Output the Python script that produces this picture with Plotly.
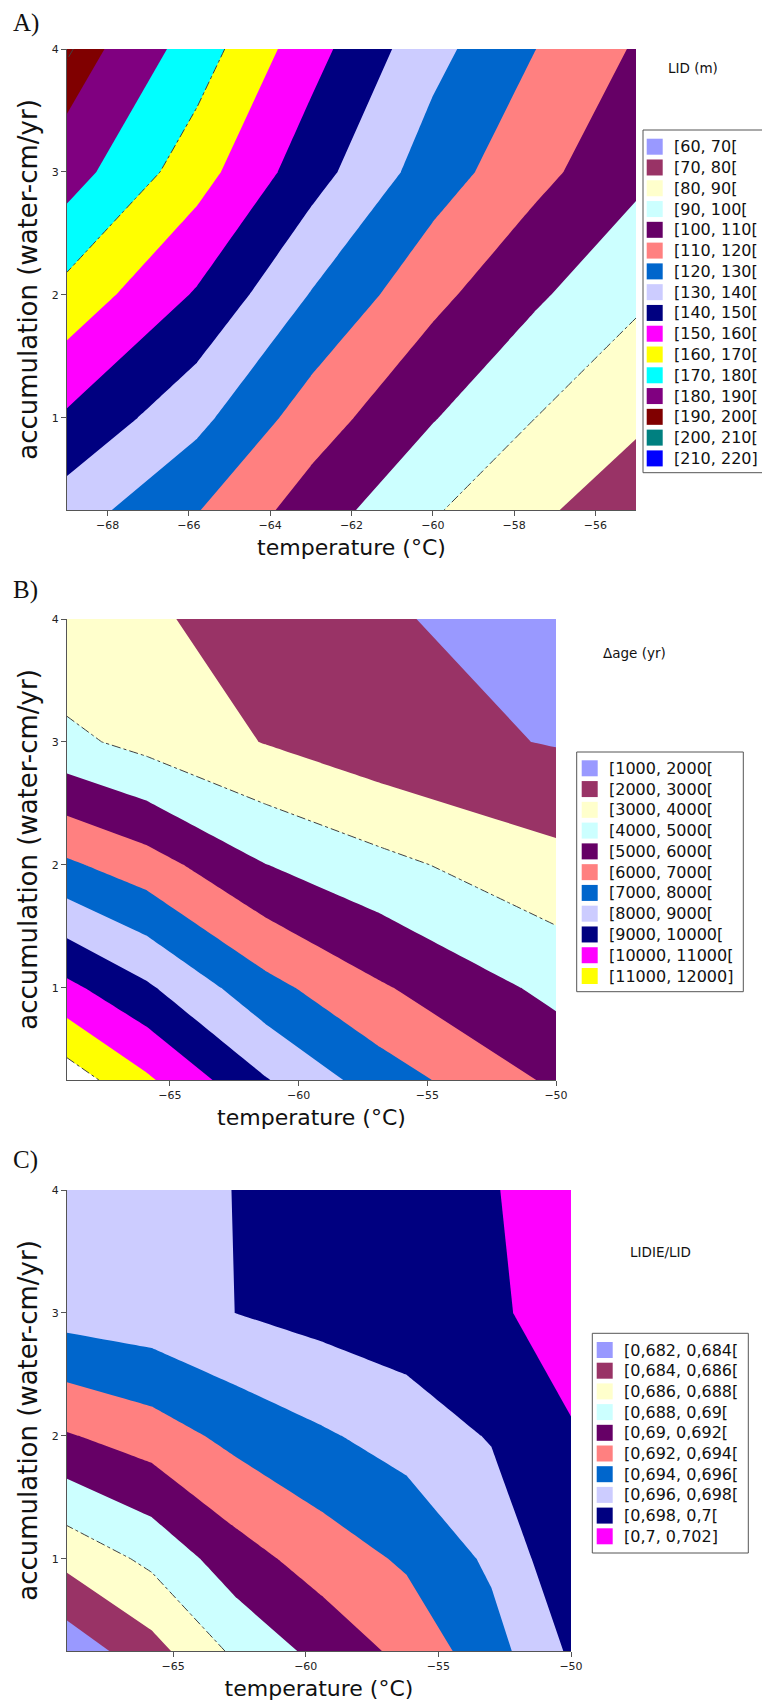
import plotly.graph_objects as go

W, H = 762, 1704

# ---------------- data ----------------
# Panel A : LID (m)
temp_A = [-69.0, -65.8, -63.0, -60.0, -57.5, -55.0]
acc_A = [0.25, 1.0, 2.0, 3.0, 4.0]
lid_A = [
    [135.0, 120.5, 105.3, 91.0, 82.0, 74.0],
    [148.6, 132.8, 115.1, 100.6, 90.1, 81.8],
    [166.7, 148.9, 129.5, 112.7, 101.6, 91.9],
    [184.6, 164.2, 144.2, 125.0, 113.0, 102.5],
    [196.0, 175.2, 153.8, 133.1, 120.2, 109.0],
]
labels_A = ["[60, 70[", "[70, 80[", "[80, 90[", "[90, 100[", "[100, 110[", "[110, 120[",
            "[120, 130[", "[130, 140[", "[140, 150[", "[150, 160[", "[160, 170[",
            "[170, 180[", "[180, 190[", "[190, 200[", "[200, 210[", "[210, 220]"]
dashed_A = [90, 170, 195]

# Panel B : delta age (yr)
temp_B = [-69.0, -65.9, -61.3, -56.85, -50.0]
acc_B = [0.25, 1.0, 2.0, 3.0, 4.0]
dage_B = [
    [12560, 11160, 9070, 7500, 5810],
    [10240, 9150, 7320, 6110, 4725],
    [7160, 6440, 5020, 4280, 3296],
    [4250, 3676, 2960, 2365, 1940],
    [3050, 3126, 2621, 2145, 1450],
]
labels_B = ["[1000, 2000[", "[2000, 3000[", "[3000, 4000[", "[4000, 5000[", "[5000, 6000[",
            "[6000, 7000[", "[7000, 8000[", "[8000, 9000[", "[9000, 10000[",
            "[10000, 11000[", "[11000, 12000]"]
dashed_B = [4000, 12000]

# Panel C : LIDIE/LID
temp_C = [-69.0, -65.8, -62.6, -59.4, -56.2, -53.0, -50.0]
acc_C = [0.25, 1.0, 2.0, 3.0, 4.0]
ratio_C = [
    [0.68272, 0.68529, 0.68844, 0.69063, 0.69256, 0.69521, 0.69830],
    [0.68658, 0.68847, 0.69116, 0.69291, 0.69430, 0.69636, 0.69960],
    [0.69184, 0.69300, 0.69461, 0.69575, 0.69681, 0.69816, 0.69985],
    [0.69680, 0.69720, 0.69802, 0.69868, 0.69920, 0.69970, 0.70080],
    [0.69750, 0.69770, 0.69802, 0.69900, 0.69950, 0.69985, 0.70120],
]
labels_C = ["[0,682, 0,684[", "[0,684, 0,686[", "[0,686, 0,688[", "[0,688, 0,69[",
            "[0,69, 0,692[", "[0,692, 0,694[", "[0,694, 0,696[", "[0,696, 0,698[",
            "[0,698, 0,7[", "[0,7, 0,702]"]
dashed_C = [0.688]

palette = ["#9999FF", "#993366", "#FFFFCC", "#CCFFFF", "#660066", "#FF8080", "#0066CC",
           "#CCCCFF", "#000080", "#FF00FF", "#FFFF00", "#00FFFF", "#800080", "#800000",
           "#008080", "#0000FF"]

FONT = "DejaVu Sans"
fig = go.Figure()


def px_x(p):
    return p / W


def px_y(p):
    return 1 - p / H


def add_panel(n, temp, acc, z, start, end, size, colors, dashed):
    xa = "x" if n == 1 else "x%d" % n
    ya = "y" if n == 1 else "y%d" % n
    nc = int(round((end - start) / size)) + 1
    cscale = [[k / nc, c] for k, c in enumerate(colors)]
    fig.add_trace(go.Contour(
        x=temp, y=acc, z=z, xaxis=xa, yaxis=ya,
        contours=dict(start=start, end=end, size=size, coloring="fill", showlines=False),
        colorscale=cscale, showscale=False, line=dict(width=0, smoothing=0),
        hoverinfo="skip", showlegend=False))
    for lv in dashed:
        fig.add_trace(go.Contour(
            x=temp, y=acc, z=z, xaxis=xa, yaxis=ya,
            contours=dict(start=lv, end=lv, size=size, coloring="none", showlines=True),
            line=dict(color="#404040", width=1, dash="dashdot", smoothing=0),
            showscale=False, hoverinfo="skip", showlegend=False))


add_panel(1, temp_A, acc_A, lid_A, 70, 210, 10, palette, dashed_A)
add_panel(2, temp_B, acc_B, dage_B, 2000, 12000, 1000, palette[:11] + ["#FFFFFF"], dashed_B)
add_panel(3, temp_C, acc_C, ratio_C, 0.684, 0.700, 0.002, palette[:10], dashed_C)

axis_common = dict(showgrid=False, zeroline=False, showline=True, linecolor="#555555",
                   linewidth=1, ticks="outside", ticklen=5, tickcolor="#555555",
                   automargin=False,
                   tickfont=dict(family=FONT, size=11, color="#222222"))

panels = [
    # (xdomain px, ydomain px, xrange, xticks)
    ((67, 636), (49, 510), [-69.0, -55.0], [-68, -66, -64, -62, -60, -58, -56]),
    ((67, 556), (619, 1080), [-69.0, -50.0], [-65, -60, -55, -50]),
    ((67, 571), (1190, 1651), [-69.0, -50.0], [-65, -60, -55, -50]),
]
layout = {}
for i, (xd, yd, xr, xt) in enumerate(panels, start=1):
    xk = "xaxis" if i == 1 else "xaxis%d" % i
    yk = "yaxis" if i == 1 else "yaxis%d" % i
    xa_id = "x" if i == 1 else "x%d" % i
    ya_id = "y" if i == 1 else "y%d" % i
    layout[xk] = dict(axis_common, domain=[px_x(xd[0]), px_x(xd[1])], range=xr,
                      tickvals=xt, anchor=ya_id,
                      title=dict(text="temperature (°C)", font=dict(family=FONT, size=22,
                                                                    color="#111111"),
                                 standoff=8))
    layout[yk] = dict(axis_common, domain=[px_y(yd[1]), px_y(yd[0])], range=[0.25, 4.0],
                      tickvals=[1, 2, 3, 4], anchor=xa_id,
                      title=dict(text="accumulation (water-cm/yr)",
                                 font=dict(family=FONT, size=26, color="#111111"),
                                 standoff=6))

annotations = []
shapes = []

# panel letters
for txt, yc in [("A)", 23), ("B)", 590), ("C)", 1160)]:
    annotations.append(dict(text=txt, xref="paper", yref="paper", x=px_x(11), y=px_y(yc),
                            xanchor="left", yanchor="middle", showarrow=False,
                            font=dict(family="Liberation Serif", size=25, color="#111111")))

# legend titles
for txt, xc, yc in [("LID (m)", 693, 68), ("\u0394age (yr)", 634, 653),
                    ("LIDIE/LID", 660, 1252)]:
    annotations.append(dict(text=txt, xref="paper", yref="paper", x=px_x(xc), y=px_y(yc),
                            xanchor="center", yanchor="middle", showarrow=False,
                            font=dict(family=FONT, size=13.5, color="#111111")))

# legends (box, colour squares, labels)
legend_specs = [
    # labels, box (x0, x1, y0, y1), marker x0, text x, first centre y, step
    (labels_A, (643, 775, 130, 472.7), 646.7, 671.7, 146.7, 20.78),
    (labels_B, (576.7, 743.3, 752, 991.7), 581.7, 606.7, 768.3, 20.77),
    (labels_C, (592.3, 748.3, 1333.3, 1553), 596.7, 622.3, 1350.0, 20.7),
]
for labels, box, mx, tx, y0c, step in legend_specs:
    shapes.append(dict(type="rect", xref="paper", yref="paper",
                       x0=px_x(box[0]), x1=px_x(box[1]), y0=px_y(box[3]), y1=px_y(box[2]),
                       line=dict(color="#555555", width=1), fillcolor="white", layer="above"))
    for k, (lab, col) in enumerate(zip(labels, palette)):
        yc = y0c + k * step
        shapes.append(dict(type="rect", xref="paper", yref="paper",
                           x0=px_x(mx), x1=px_x(mx + 16), y0=px_y(yc + 8), y1=px_y(yc - 8),
                           line=dict(width=0), fillcolor=col, layer="above"))
        annotations.append(dict(text=lab, xref="paper", yref="paper", x=px_x(tx),
                                y=px_y(yc), xanchor="left", yanchor="middle",
                                showarrow=False,
                                font=dict(family=FONT, size=16, color="#111111")))

fig.update_layout(width=W, height=H, margin=dict(l=0, r=0, t=0, b=0, autoexpand=False),
                  paper_bgcolor="white", plot_bgcolor="white", showlegend=False,
                  font=dict(family=FONT), annotations=annotations, shapes=shapes, **layout)

fig.write_html("out.html", config={"displayModeBar": False},
               post_script="document.body.style.margin='0';"
                           "document.body.style.overflow='hidden';")
